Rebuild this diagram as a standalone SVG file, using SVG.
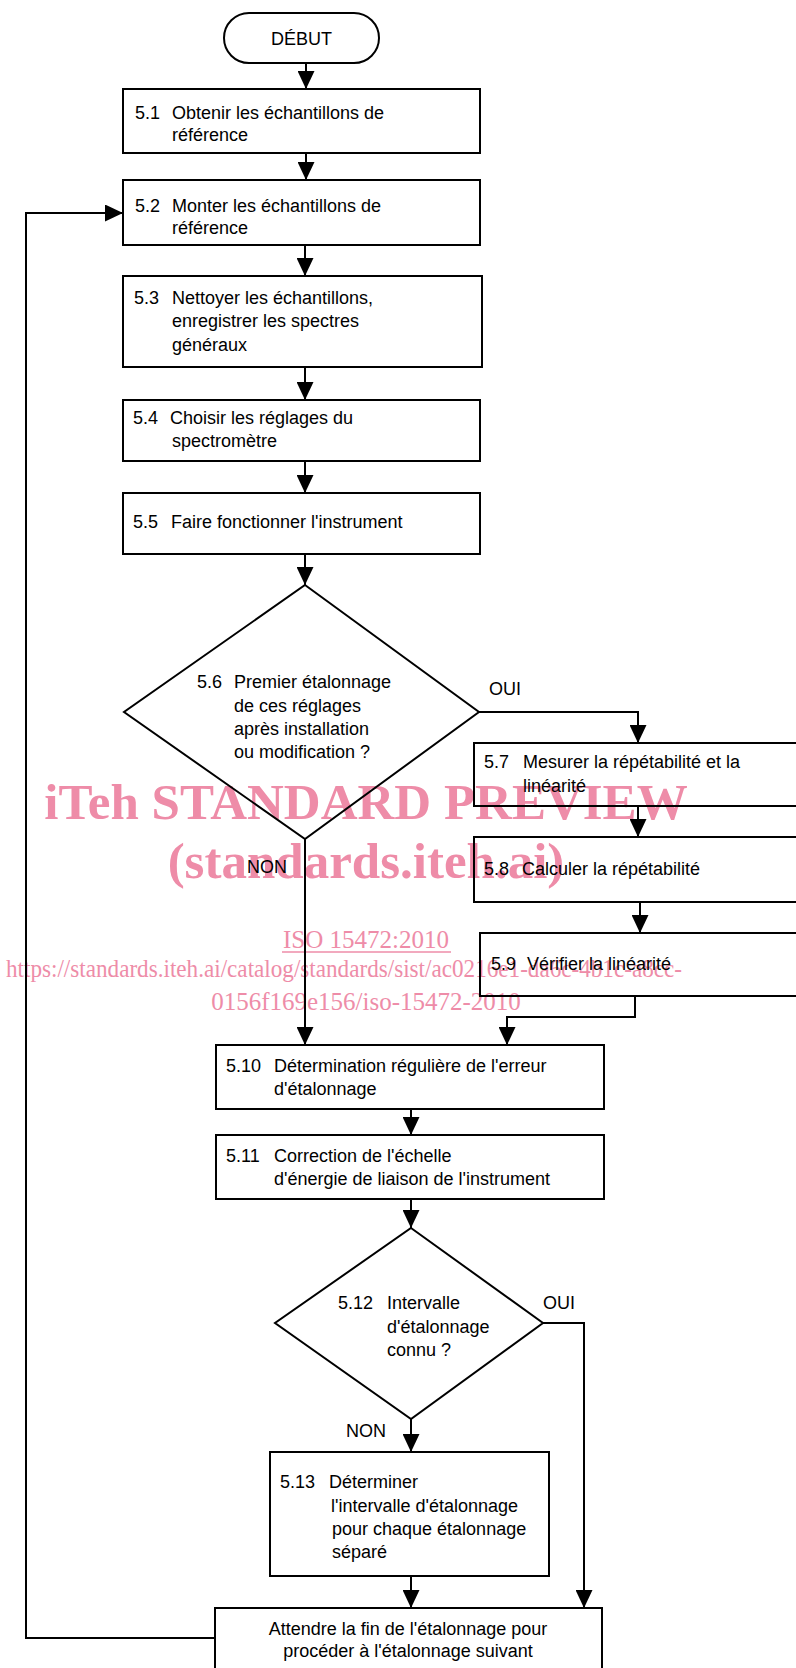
<svg xmlns="http://www.w3.org/2000/svg" width="796" height="1668" viewBox="0 0 796 1668">
<style>
.bg{fill:#ffffff}
.box{fill:none;stroke:#000;stroke-width:2}
.ln{fill:none;stroke:#000;stroke-width:2}
.t{font-family:"Liberation Sans",Arial,sans-serif;font-size:18px;fill:#000}
.c{text-anchor:middle}
.wm{font-family:"Liberation Serif","Times New Roman",serif;fill:#ee8ca8}
.wb{font-weight:bold;font-size:51px}
.wr{font-size:25px}
</style>
<defs>
<marker id="ah" markerUnits="userSpaceOnUse" markerWidth="18" markerHeight="17" refX="18" refY="8.5" orient="auto">
<path d="M0,0 L18,8.5 L0,17 Z" fill="#000"/>
</marker>
</defs>
<rect class="bg" x="0" y="0" width="796" height="1668"/>
<g id="watermark">
<text class="wm wb c" x="366" y="819">iTeh STANDARD PREVIEW</text>
<text class="wm wb c" x="366" y="878">(standards.iteh.ai)</text>
<text class="wm wr c" x="366" y="948">ISO 15472:2010</text>
<line x1="282" y1="952" x2="451" y2="952" stroke="#ee8ca8" stroke-width="1.5"/>
<text class="wm wr" x="6" y="977" textLength="676" lengthAdjust="spacingAndGlyphs">https://standards.iteh.ai/catalog/standards/sist/ac0216e1-da6c-4b1c-a8cc-</text>
<text class="wm wr c" x="366" y="1010">0156f169e156/iso-15472-2010</text>
</g>
<g id="connectors">
<path class="ln" d="M306,63 V89" marker-end="url(#ah)"/>
<path class="ln" d="M306,153 V180" marker-end="url(#ah)"/>
<path class="ln" d="M305,245 V276" marker-end="url(#ah)"/>
<path class="ln" d="M305,367 V400" marker-end="url(#ah)"/>
<path class="ln" d="M305,461 V493" marker-end="url(#ah)"/>
<path class="ln" d="M305,554 V585" marker-end="url(#ah)"/>
<path class="ln" d="M479,712 H638 V743" marker-end="url(#ah)"/>
<path class="ln" d="M638,806 V837" marker-end="url(#ah)"/>
<path class="ln" d="M640,902 V933" marker-end="url(#ah)"/>
<path class="ln" d="M635,996 V1017 H507 V1045" marker-end="url(#ah)"/>
<path class="ln" d="M305,839 V1045" marker-end="url(#ah)"/>
<path class="ln" d="M411,1109 V1135" marker-end="url(#ah)"/>
<path class="ln" d="M411,1199 V1228" marker-end="url(#ah)"/>
<path class="ln" d="M411,1419 V1452" marker-end="url(#ah)"/>
<path class="ln" d="M543,1323 H584 V1608" marker-end="url(#ah)"/>
<path class="ln" d="M411,1576 V1608" marker-end="url(#ah)"/>
<path class="ln" d="M215,1638 H26 V213 H123" marker-end="url(#ah)"/>
<text class="t" x="489" y="695">OUI</text>
<text class="t" x="247" y="873">NON</text>
<text class="t" x="543" y="1309">OUI</text>
<text class="t" x="346" y="1437">NON</text>
</g>
<g id="debut">
<rect class="box" x="224" y="13" width="155" height="50" rx="25" ry="25"/>
<text class="t c" x="301.5" y="45">DÉBUT</text>
</g>
<g id="n51">
<rect class="box" x="123" y="89" width="357" height="64"/>
<text class="t" x="135" y="119">5.1</text>
<text class="t" x="172" y="119">Obtenir les échantillons de</text>
<text class="t" x="172" y="141">référence</text>
</g>
<g id="n52">
<rect class="box" x="123" y="180" width="357" height="65"/>
<text class="t" x="135" y="212">5.2</text>
<text class="t" x="172" y="212">Monter les échantillons de</text>
<text class="t" x="172" y="234">référence</text>
</g>
<g id="n53">
<rect class="box" x="123" y="276" width="359" height="91"/>
<text class="t" x="134" y="304">5.3</text>
<text class="t" x="172" y="304">Nettoyer les échantillons,</text>
<text class="t" x="172" y="327">enregistrer les spectres</text>
<text class="t" x="172" y="351">généraux</text>
</g>
<g id="n54">
<rect class="box" x="123" y="400" width="357" height="61"/>
<text class="t" x="133" y="424">5.4</text>
<text class="t" x="170" y="424">Choisir les réglages du</text>
<text class="t" x="172" y="447">spectromètre</text>
</g>
<g id="n55">
<rect class="box" x="123" y="493" width="357" height="61"/>
<text class="t" x="133" y="528">5.5</text>
<text class="t" x="171" y="528">Faire fonctionner l'instrument</text>
</g>
<g id="n56">
<polygon class="box" points="305,585 479,712 305,839 124,712"/>
<text class="t" x="197" y="688">5.6</text>
<text class="t" x="234" y="688">Premier étalonnage</text>
<text class="t" x="234" y="712">de ces réglages</text>
<text class="t" x="234" y="735">après installation</text>
<text class="t" x="234" y="758">ou modification ?</text>
</g>
<g id="n57">
<rect class="box" x="474" y="743" width="340" height="63"/>
<text class="t" x="484" y="768">5.7</text>
<text class="t" x="523" y="768">Mesurer la répétabilité et la</text>
<text class="t" x="523" y="792">linéarité</text>
</g>
<g id="n58">
<rect class="box" x="474" y="837" width="340" height="65"/>
<text class="t" x="484" y="875">5.8</text>
<text class="t" x="522" y="875">Calculer la répétabilité</text>
</g>
<g id="n59">
<rect class="box" x="480" y="933" width="340" height="63"/>
<text class="t" x="491" y="970">5.9</text>
<text class="t" x="527" y="970">Vérifier la linéarité</text>
</g>
<g id="n510">
<rect class="box" x="216" y="1045" width="388" height="64"/>
<text class="t" x="226" y="1072">5.10</text>
<text class="t" x="274" y="1072">Détermination régulière de l'erreur</text>
<text class="t" x="274" y="1095">d'étalonnage</text>
</g>
<g id="n511">
<rect class="box" x="216" y="1135" width="388" height="64"/>
<text class="t" x="226" y="1162">5.11</text>
<text class="t" x="274" y="1162">Correction de l'échelle</text>
<text class="t" x="274" y="1185">d'énergie de liaison de l'instrument</text>
</g>
<g id="n512">
<polygon class="box" points="411,1228 543,1323 411,1419 275,1323"/>
<text class="t" x="338" y="1309">5.12</text>
<text class="t" x="387" y="1309">Intervalle</text>
<text class="t" x="387" y="1333">d'étalonnage</text>
<text class="t" x="387" y="1356">connu ?</text>
</g>
<g id="n513">
<rect class="box" x="270" y="1452" width="279" height="124"/>
<text class="t" x="280" y="1488">5.13</text>
<text class="t" x="329" y="1488">Déterminer</text>
<text class="t" x="331" y="1512">l'intervalle d'étalonnage</text>
<text class="t" x="332" y="1535">pour chaque étalonnage</text>
<text class="t" x="332" y="1558">séparé</text>
</g>
<g id="attendre">
<rect class="box" x="215" y="1608" width="387" height="80"/>
<text class="t c" x="408" y="1635">Attendre la fin de l'étalonnage pour</text>
<text class="t c" x="408" y="1657">procéder à l'étalonnage suivant</text>
</g>
</svg>
